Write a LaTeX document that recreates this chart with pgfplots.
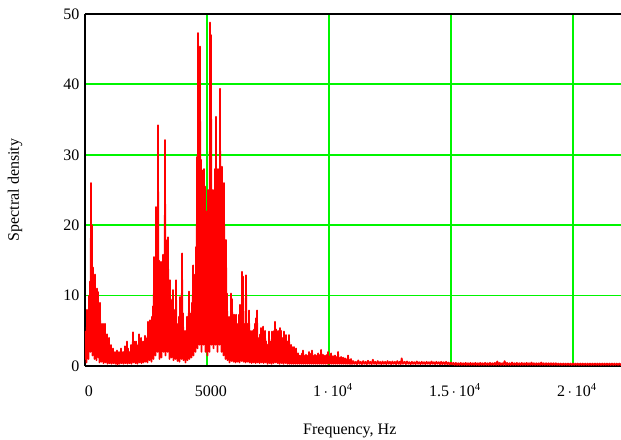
\documentclass[border=0pt]{standalone}
\usepackage{fontspec}
\setmainfont{Liberation Serif}
\usepackage{pgfplots}
\pgfplotsset{compat=1.18}
\definecolor{gridgreen}{RGB}{0,245,0}
\definecolor{specred}{RGB}{255,0,0}
\begin{document}
\begin{tikzpicture}
\useasboundingbox (-63.75pt,-54.75pt) rectangle (402pt,274.5pt);
\begin{axis}[
  at={(0pt,0pt)}, anchor=south west,
  scale only axis, width=402pt, height=264pt,
  xmin=0, xmax=21970, ymin=0, ymax=50,
  scaled x ticks=false, scaled y ticks=false,
  axis x line*=box, axis y line*=left,
  axis line style={black, line width=0.8pt},
  xtick={0,5000,10000,15000,20000},
  xticklabels={0,5000,{1\,$\cdot$\,10\textsuperscript{4}},{1.5\,$\cdot$\,10\textsuperscript{4}},{2\,$\cdot$\,10\textsuperscript{4}}},
  ytick={0,10,20,30,40,50},
  major tick length=0pt,
  grid=major,
  major grid style={gridgreen, line width=1.35pt},
  /pgf/number format/assume math mode=true,
  tick label style={font=\fontsize{12}{14}\selectfont},
  yticklabel style={anchor=east, inner sep=0pt, xshift=-4pt},
  xticklabel style={anchor=base, inner sep=0pt, yshift=-23pt, xshift=3pt},
  label style={font=\fontsize{12}{14}\selectfont},
  xlabel={Frequency, Hz},
  ylabel={Spectral density},
  xlabel style={at={(axis description cs:0.494,0)}, anchor=base, inner sep=0pt, yshift=-51pt},
  ylabel style={at={(axis description cs:-0.1306,0.5)}, anchor=center, inner sep=0pt},
  clip=true,
]
\addplot[specred, line width=1.25pt, line join=round] coordinates {
(0,5) (20,1) (41,3) (61,0.5) (82,8) (102,2) (123,6) (143,1) (164,10) (184,3)
(205,12) (225,2) (246,26) (266,4) (287,20) (307,1.5) (328,14) (348,3) (369,11) (389,1)
(410,13) (430,2.5) (451,9) (471,0.8) (492,11) (512,2) (533,10.5) (553,1.2) (574,7) (594,0.5)
(615,9) (635,1.5) (656,6) (676,0.6) (697,5) (717,1.5) (738,6) (758,0.4) (779,4.5) (799,1)
(820,6) (840,0.5) (861,3) (881,0.8) (902,4.5) (922,0.3) (943,3.5) (963,0.9) (984,4) (1004,0.4)
(1025,2.5) (1045,0.7) (1066,3) (1086,0.3) (1107,2) (1127,0.8) (1148,2.5) (1168,0.4) (1189,1.5) (1209,0.6)
(1230,2) (1250,0.3) (1271,1.8) (1291,0.7) (1312,2.2) (1332,0.2) (1353,1.5) (1373,0.6) (1394,2) (1414,0.3)
(1435,1.5) (1455,0.8) (1476,2.5) (1496,0.4) (1517,1.6) (1537,0.7) (1558,2) (1578,0.3) (1599,1.5) (1619,0.8)
(1640,2.8) (1660,0.4) (1681,2) (1701,0.9) (1722,3.5) (1742,0.3) (1763,2.5) (1783,1) (1804,2) (1824,0.4)
(1845,1.8) (1865,0.8) (1886,3) (1906,0.3) (1927,2.5) (1947,1) (1968,4.8) (1988,0.5) (2009,3.5) (2029,1.2)
(2050,2.5) (2070,0.4) (2091,3.5) (2111,1) (2132,2) (2152,0.3) (2173,3) (2193,1.1) (2214,4.5) (2234,0.5)
(2255,3) (2275,1.3) (2296,4) (2316,0.4) (2337,2.5) (2357,1) (2378,3.5) (2398,0.5) (2419,3) (2439,1.4)
(2460,4.3) (2480,0.6) (2501,3.5) (2521,1.2) (2542,4) (2562,0.5) (2583,6.3) (2603,1.5) (2624,4) (2644,0.8)
(2665,6.5) (2685,2) (2706,5) (2726,0.6) (2747,7) (2767,2.5) (2788,8.5) (2808,1) (2829,15.5) (2849,3)
(2870,10) (2890,1.5) (2911,22.6) (2931,4) (2952,14) (2972,2) (2993,34.2) (3013,3) (3034,15) (3054,1)
(3075,10) (3095,3.5) (3116,14.8) (3136,1.2) (3157,12) (3177,4) (3198,15.8) (3218,2) (3239,12) (3259,3)
(3280,32.1) (3300,1.5) (3321,17.9) (3341,4) (3362,14) (3382,2) (3403,18.3) (3423,3) (3444,12) (3464,1)
(3485,12.2) (3505,3.5) (3526,8) (3546,1.2) (3567,9.4) (3587,2.5) (3608,10.8) (3628,0.8) (3649,7) (3669,3)
(3690,8) (3710,1) (3731,12.2) (3751,2.5) (3772,6) (3792,0.7) (3813,5.1) (3833,2) (3854,7) (3874,0.6)
(3895,9.8) (3915,2.5) (3936,6) (3956,1) (3977,16) (3997,3) (4018,7.5) (4038,0.8) (4059,5) (4079,2)
(4100,4) (4120,0.5) (4141,5) (4161,2) (4182,7) (4202,0.8) (4223,5.5) (4243,2.5) (4264,10.6) (4284,1)
(4305,7.5) (4325,3) (4346,6) (4366,1.2) (4387,9) (4407,3.5) (4428,14.3) (4448,1.5) (4469,9) (4489,4)
(4510,13) (4530,2) (4551,16.9) (4571,5) (4592,29.7) (4612,2.5) (4633,47.3) (4653,6) (4674,30) (4694,3)
(4715,45.4) (4735,7) (4756,29.3) (4776,2) (4797,27.8) (4817,6) (4838,25.5) (4858,3) (4879,28) (4899,8)
(4920,25.5) (4940,2) (4961,22) (4981,5) (5002,16.9) (5022,1.5) (5043,25) (5063,4) (5084,16.5) (5104,2)
(5125,48.8) (5145,6) (5166,47) (5186,3) (5207,18) (5227,7) (5248,25) (5268,2.5) (5289,24.5) (5309,6)
(5330,28) (5350,3) (5371,35.4) (5391,8) (5412,28) (5432,2) (5453,27.3) (5473,5) (5494,28) (5514,3)
(5535,39.4) (5555,6) (5576,27.8) (5596,2) (5617,28.3) (5637,5) (5658,18) (5678,1.5) (5699,26) (5719,4)
(5740,16.5) (5760,1) (5781,17.9) (5801,3) (5822,10.3) (5842,0.8) (5863,7) (5883,2) (5904,5.1) (5924,0.5)
(5945,7) (5965,2) (5986,10.3) (6006,0.7) (6027,9.5) (6047,2.5) (6068,6) (6088,0.6) (6109,7.3) (6129,2)
(6150,5) (6170,0.5) (6191,7.3) (6211,1.8) (6232,5.5) (6252,0.6) (6273,6) (6293,2) (6314,7.3) (6334,0.5)
(6355,8.7) (6375,2.2) (6396,6) (6416,0.7) (6437,13.4) (6457,2) (6478,12.7) (6498,0.6) (6519,5.6) (6539,1.8)
(6560,6) (6580,0.5) (6601,12.9) (6621,2) (6642,5.2) (6662,0.6) (6683,6) (6703,1.6) (6724,7.9) (6744,0.5)
(6765,5) (6785,1.8) (6806,4.5) (6826,0.4) (6847,5) (6867,1.5) (6888,4.5) (6908,0.5) (6929,5.2) (6949,1.6)
(6970,6) (6990,0.4) (7011,6.8) (7031,1.8) (7052,7.9) (7072,0.5) (7093,4) (7113,1.2) (7134,3.7) (7154,0.4)
(7175,4.5) (7195,1.4) (7216,5.4) (7236,0.5) (7257,4) (7277,1.3) (7298,5.6) (7318,0.4) (7339,4.5) (7359,1.5)
(7380,5) (7400,0.5) (7421,3.5) (7441,1) (7462,3) (7482,0.3) (7503,2.7) (7523,1) (7544,4.9) (7564,0.4)
(7585,3) (7605,1.2) (7626,3.5) (7646,0.3) (7667,4.9) (7687,1.1) (7708,4) (7728,0.4) (7749,5) (7769,1.3)
(7790,6.3) (7810,0.5) (7831,5.2) (7851,1.2) (7872,4.5) (7892,0.4) (7913,5) (7933,1) (7954,4) (7974,0.3)
(7995,5.4) (8015,1.2) (8036,5) (8056,0.4) (8077,4) (8097,1) (8118,3.3) (8138,0.3) (8159,4.9) (8179,0.9)
(8200,4) (8220,0.4) (8241,4.4) (8261,1) (8282,3.5) (8302,0.3) (8323,3) (8343,0.8) (8364,4.4) (8384,0.3)
(8405,2.3) (8425,0.8) (8446,3) (8466,0.3) (8487,2.7) (8507,0.7) (8528,2.2) (8548,0.3) (8569,2.7) (8589,0.7)
(8610,2) (8630,0.3) (8651,2.5) (8671,0.6) (8692,1.6) (8712,0.3) (8733,1.8) (8753,0.6) (8774,1.2) (8794,0.3)
(8815,1.5) (8835,0.5) (8856,1.4) (8876,0.3) (8897,1.8) (8917,0.5) (8938,2.2) (8958,0.3) (8979,1.5) (8999,0.5)
(9020,1.4) (9040,0.3) (9061,1.6) (9081,0.5) (9102,1.2) (9122,0.3) (9143,1.5) (9163,0.5) (9184,2) (9204,0.3)
(9225,1.4) (9245,0.5) (9266,1.8) (9286,0.3) (9307,2.2) (9327,0.5) (9348,1.5) (9368,0.3) (9389,1.4) (9409,0.5)
(9430,1.6) (9450,0.3) (9471,1.2) (9491,0.4) (9512,1.5) (9532,0.3) (9553,1.8) (9573,0.4) (9594,1.6) (9614,0.3)
(9635,1.2) (9655,0.4) (9676,2.3) (9696,0.3) (9717,1.5) (9737,0.4) (9758,1.6) (9778,0.3) (9799,1.3) (9819,0.4)
(9840,1.5) (9860,0.3) (9881,1.2) (9901,0.4) (9922,1.6) (9942,0.3) (9963,2.0) (9983,0.4) (10004,1.4) (10024,0.3)
(10045,1.3) (10065,0.4) (10086,1.8) (10106,0.3) (10127,1.2) (10147,0.4) (10168,1.4) (10188,0.3) (10209,1.2) (10229,0.4)
(10250,1.5) (10270,0.3) (10291,1.3) (10311,0.4) (10332,1.1) (10352,0.3) (10373,2.0) (10393,0.4) (10414,1.2) (10434,0.3)
(10455,1.0) (10475,0.4) (10496,1.3) (10516,0.3) (10537,1.0) (10557,0.4) (10578,1.2) (10598,0.3) (10619,0.9) (10639,0.4)
(10660,1.1) (10680,0.3) (10701,0.9) (10721,0.35) (10742,1.0) (10762,0.3) (10783,1.5) (10803,0.35) (10824,0.9) (10844,0.3)
(10865,0.8) (10885,0.3) (10906,1.0) (10926,0.3) (10947,0.7) (10970,0.3)
(11000,0.7) (11050,0.3) (11100,0.6) (11150,0.25) (11200,0.8) (11250,0.3) (11300,0.6) (11350,0.25) (11400,0.7) (11450,0.3)
(11500,0.6) (11550,0.25) (11600,0.75) (11650,0.3) (11700,0.6) (11750,0.25) (11800,0.9) (11850,0.3) (11900,0.6) (11950,0.25)
(12000,0.7) (12050,0.3) (12100,0.6) (12150,0.25) (12200,0.65) (12250,0.3) (12300,0.6) (12350,0.25) (12400,0.7) (12450,0.3)
(12500,0.6) (12550,0.25) (12600,0.65) (12650,0.3) (12700,0.6) (12750,0.25) (12800,0.7) (12850,0.3) (12900,0.6) (12940,0.25)
(12980,1.1) (13030,0.3) (13100,0.6) (13150,0.25) (13200,0.65) (13250,0.3) (13300,0.55) (13350,0.25) (13400,0.6) (13450,0.3)
(13500,0.55) (13550,0.25) (13600,0.65) (13650,0.3) (13700,0.55) (13750,0.25) (13800,0.6) (13850,0.3) (13900,0.55) (13950,0.25)
(14000,0.6) (14050,0.3) (14100,0.55) (14150,0.25) (14200,0.65) (14250,0.3) (14300,0.55) (14350,0.25) (14400,0.6) (14450,0.3)
(14500,0.55) (14550,0.25) (14600,0.6) (14650,0.25) (14700,0.55) (14750,0.25) (14800,0.6) (14850,0.25) (14900,0.5) (14950,0.2)
(15000,0.5) (15050,0.2) (15100,0.45) (15150,0.15) (15200,0.45) (15250,0.15) (15300,0.4) (15350,0.15) (15400,0.45) (15450,0.15)
(15500,0.4) (15550,0.15) (15600,0.45) (15650,0.15) (15700,0.4) (15750,0.15) (15800,0.45) (15850,0.15) (15900,0.4) (15950,0.15)
(16000,0.45) (16050,0.15) (16100,0.4) (16150,0.15) (16200,0.45) (16250,0.15) (16300,0.4) (16350,0.15) (16400,0.45) (16450,0.15)
(16500,0.4) (16550,0.15) (16600,0.45) (16650,0.15) (16700,0.4) (16750,0.15) (16800,0.45) (16850,0.15) (16900,0.65) (16950,0.15)
(17000,0.45) (17050,0.15) (17100,0.4) (17150,0.15) (17200,0.7) (17250,0.15) (17300,0.45) (17350,0.15) (17400,0.4) (17450,0.15)
(17500,0.5) (17550,0.15) (17600,0.4) (17650,0.15) (17700,0.45) (17750,0.15) (17800,0.4) (17850,0.15) (17900,0.45) (17950,0.15)
(18000,0.4) (18050,0.15) (18100,0.45) (18150,0.15) (18200,0.4) (18250,0.15) (18300,0.5) (18350,0.15) (18400,0.4) (18450,0.15)
(18500,0.4) (18550,0.15) (18600,0.4) (18650,0.15) (18700,0.5) (18750,0.15) (18800,0.4) (18850,0.15) (18900,0.4) (18950,0.15)
(19000,0.4) (19050,0.15) (19100,0.4) (19150,0.15) (19200,0.4) (19250,0.15) (19300,0.4) (19350,0.15) (19400,0.35) (19450,0.15)
(19500,0.35) (19550,0.15) (19600,0.35) (19650,0.15) (19700,0.35) (19750,0.15) (19800,0.35) (19850,0.15) (19900,0.35) (19950,0.15)
(20000,0.35) (20050,0.15) (20100,0.35) (20150,0.15) (20200,0.35) (20250,0.15) (20300,0.35) (20350,0.15) (20400,0.35) (20450,0.15)
(20500,0.35) (20550,0.15) (20600,0.35) (20650,0.15) (20700,0.35) (20750,0.15) (20800,0.35) (20850,0.15) (20900,0.35) (20950,0.15)
(21000,0.35) (21050,0.15) (21100,0.35) (21150,0.15) (21200,0.35) (21250,0.15) (21300,0.35) (21350,0.15) (21400,0.35) (21450,0.15)
(21500,0.35) (21550,0.15) (21600,0.35) (21650,0.15) (21700,0.35) (21750,0.15) (21800,0.35) (21850,0.15) (21900,0.35) (21950,0.15)
(22000,0.35)
};
\end{axis}
\end{tikzpicture}
\end{document}
